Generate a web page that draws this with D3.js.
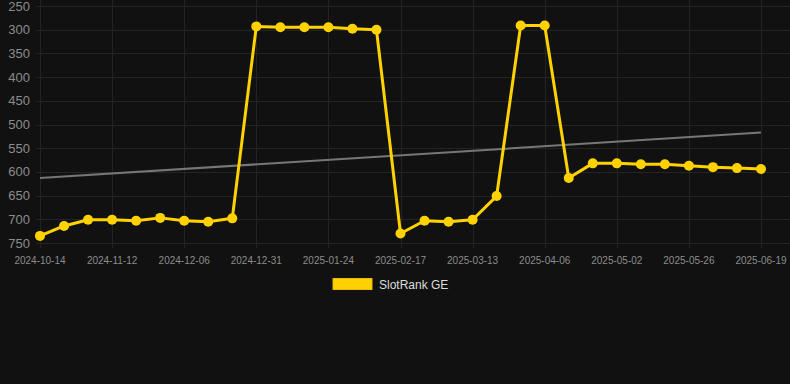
<!DOCTYPE html>
<html>
<head>
<meta charset="utf-8">
<script src="https://cdn.jsdelivr.net/npm/d3@7"></script>
<style>
  html, body { margin: 0; padding: 0; background: #111111; }
  svg { display: block; font-family: "Liberation Sans", Arial, sans-serif; }
</style>
</head>
<body>
<div id="chart"></div>
<script>
// categories: one per sample, only every third one is labelled
var dates = [
  "2024-10-14", "2024-10-24", "2024-11-03", "2024-11-12", "2024-11-20", "2024-11-28",
  "2024-12-06", "2024-12-14", "2024-12-22", "2024-12-31", "2025-01-08", "2025-01-16",
  "2025-01-24", "2025-02-01", "2025-02-09", "2025-02-17", "2025-02-25", "2025-03-05",
  "2025-03-13", "2025-03-21", "2025-03-29", "2025-04-06", "2025-04-15", "2025-04-24",
  "2025-05-02", "2025-05-10", "2025-05-18", "2025-05-26", "2025-06-03", "2025-06-11",
  "2025-06-19"
];
// rank values (lower is better, axis reversed)
var ranks = [
  735, 714, 701, 701, 703, 697, 703, 705, 698, 293, 295, 295,
  295, 298, 300, 730, 703, 705, 701, 651, 291, 291, 613, 582,
  582, 584, 584, 587, 590, 592, 594
];
var yTicks = [250, 300, 350, 400, 450, 500, 550, 600, 650, 700, 750];
var seriesName = "SlotRank GE";

var width = 790, height = 384;
var svg = d3.select("#chart").append("svg")
    .attr("width", width)
    .attr("height", height);

var x = d3.scalePoint()
    .domain(dates)
    .range([40, 761]);
var y = d3.scaleLinear()
    .domain([250, 750])
    .range([6, 243]);

// grid
svg.append("g")
  .selectAll("line")
  .data(yTicks)
  .enter().append("line")
    .attr("x1", 36).attr("x2", width)
    .attr("y1", function(d) { return Math.round(y(d)) + 0.5; })
    .attr("y2", function(d) { return Math.round(y(d)) + 0.5; })
    .attr("stroke", "#242424")
    .attr("stroke-width", 1);

var labelled = dates.filter(function(d, i) { return i % 3 === 0; });
svg.append("g")
  .selectAll("line")
  .data(labelled)
  .enter().append("line")
    .attr("x1", function(d) { return Math.round(x(d)) + 0.5; })
    .attr("x2", function(d) { return Math.round(x(d)) + 0.5; })
    .attr("y1", 0).attr("y2", 248)
    .attr("stroke", "#242424")
    .attr("stroke-width", 1);

// y labels
svg.append("g")
  .selectAll("text")
  .data(yTicks)
  .enter().append("text")
    .attr("x", 30)
    .attr("y", function(d) { return y(d); })
    .attr("dy", "0.35em")
    .attr("text-anchor", "end")
    .style("font-size", "13px")
    .style("fill", "#8c8c8c")
    .text(function(d) { return d; });

// x labels
svg.append("g")
  .selectAll("text")
  .data(labelled)
  .enter().append("text")
    .attr("x", function(d) { return x(d); })
    .attr("y", 260)
    .attr("dy", "0.35em")
    .attr("text-anchor", "middle")
    .style("font-size", "10px")
    .style("fill", "#8c8c8c")
    .text(function(d) { return d; });

// least squares trend over the sample index
var n = ranks.length;
var mx = d3.mean(ranks, function(d, i) { return i; });
var my = d3.mean(ranks);
var sxy = d3.sum(ranks, function(d, i) { return (i - mx) * (d - my); });
var sxx = d3.sum(ranks, function(d, i) { return (i - mx) * (i - mx); });
var slope = sxy / sxx;
var trend = [0, n - 1].map(function(i) { return {d: dates[i], v: my + slope * (i - mx)}; });

svg.append("path")
    .datum(trend)
    .attr("fill", "none")
    .attr("stroke", "#777777")
    .attr("stroke-width", 2)
    .attr("d", d3.line()
      .x(function(d) { return x(d.d); })
      .y(function(d) { return y(d.v); }));

// series
var pts = dates.map(function(d, i) { return {d: d, v: ranks[i]}; });
svg.append("path")
    .datum(pts)
    .attr("fill", "none")
    .attr("stroke", "#ffd200")
    .attr("stroke-width", 3)
    .attr("stroke-linejoin", "round")
    .attr("d", d3.line()
      .x(function(d) { return x(d.d); })
      .y(function(d) { return y(d.v); }));

svg.append("g")
  .selectAll("circle")
  .data(pts)
  .enter().append("circle")
    .attr("cx", function(d) { return x(d.d); })
    .attr("cy", function(d) { return y(d.v); })
    .attr("r", 5)
    .attr("fill", "#ffd200");

// legend
var legend = svg.append("g");
legend.append("rect")
    .attr("x", 333).attr("y", 278.5)
    .attr("width", 39).attr("height", 11)
    .attr("fill", "#ffd200")
    .attr("stroke", "#e6b800")
    .attr("stroke-width", 1);
legend.append("text")
    .attr("x", 379).attr("y", 284.5)
    .attr("dy", "0.35em")
    .style("font-size", "12px")
    .style("fill", "#dddddd")
    .text(seriesName);
</script>
</body>
</html>
